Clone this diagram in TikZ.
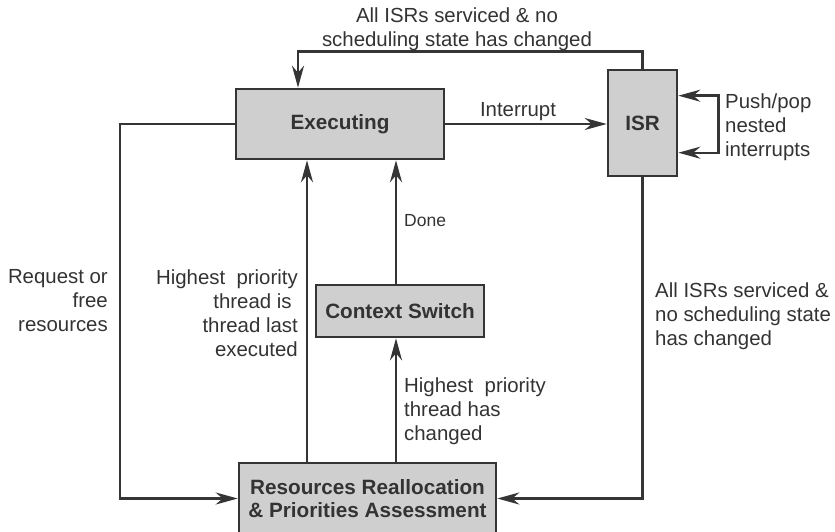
\documentclass[tikz,border=0pt]{standalone}
\usepackage{fontspec}
\setmainfont{Liberation Sans}
\usetikzlibrary{arrows.meta}
\definecolor{lc}{HTML}{353535}
\definecolor{bf}{HTML}{CFCFCF}
\definecolor{tc}{HTML}{333333}
\begin{document}
\begin{tikzpicture}[x=1pt,y=-1pt,
  box/.style={draw=lc,fill=bf,line width=2.6pt,inner sep=0pt,font=\fontsize{20.7}{23.5}\selectfont\bfseries,text=tc,align=center},
  arr/.style={draw=lc,line width=2.4pt,-{Stealth[length=22pt,width=12pt,inset=7pt]}},
  dbl/.style={draw=lc,line width=2.4pt,{Stealth[length=22pt,width=12pt,inset=7pt]}-{Stealth[length=22pt,width=12pt,inset=7pt]}},
  lbl/.style={font=\fontsize{20.4}{24}\selectfont,text=tc,inner sep=0pt},
  small/.style={font=\fontsize{17.5}{21}\selectfont,text=tc,inner sep=0pt}]
\useasboundingbox (0,0) rectangle (835,532);
% boxes
\node[box,minimum width=208pt,minimum height=70pt] (exec) at (340,124) {Executing};
\node[box,minimum width=69pt,minimum height=106pt] (isr) at (642.5,123) {ISR};
\node[box,minimum width=168pt,minimum height=52pt] (cs) at (400,311) {Context Switch};
\node[box,minimum width=257pt,minimum height=71pt] (res) at (367.5,498.5) {Resources Reallocation\\\& Priorities Assessment};
% connectors
\draw[arr] (exec.east) -- (exec.east -| isr.west);
\draw[arr] (isr.north) -- ++(0,-17) -| ([xshift=-42pt]exec.north);
\draw[dbl] ([yshift=-27pt]isr.north east) -- ++(40,0) -- ([xshift=40pt,yshift=-84pt]isr.north east) -- ([yshift=-84pt]isr.north east);
\draw[arr] (exec.west) -- ++(-115,0) |- (res.west);
\draw[arr] (isr.south) |- (res.east);
\draw[arr] ([xshift=-60.5pt]res.north) -- ([xshift=-60.5pt]res.north |- exec.south);
\draw[arr] ([xshift=28.5pt]res.north) -- ([xshift=28.5pt]res.north |- cs.south);
\draw[arr] ([xshift=-4pt]cs.north) -- ([xshift=-4pt]cs.north |- exec.south);
% labels
\node[lbl,align=center] (ltop) at (457,29) {All ISRs serviced \& no\\scheduling state has changed};
\node[lbl] (lint) at (518,112) {Interrupt};
\node[lbl,align=left,anchor=west] (lpush) at (725,127) {Push/pop\\nested\\interrupts};
\node[small,anchor=west] (ldone) at (404,221) {Done};
\node[lbl,align=right,anchor=east] (lreq) at (108,301) {Request or\\free\\resources};
\node[lbl,align=right,anchor=east] (lhp1) at (298,313.5) {Highest~ priority\\thread is\kern0.3em\\thread last\\executed};
\node[lbl,align=left,anchor=west] (lhp2) at (404,411) {Highest~ priority\\thread has\\changed};
\node[lbl,align=left,anchor=west] (lall) at (655,316) {All ISRs serviced \&\\no scheduling state\\has changed};
\end{tikzpicture}
\end{document}
